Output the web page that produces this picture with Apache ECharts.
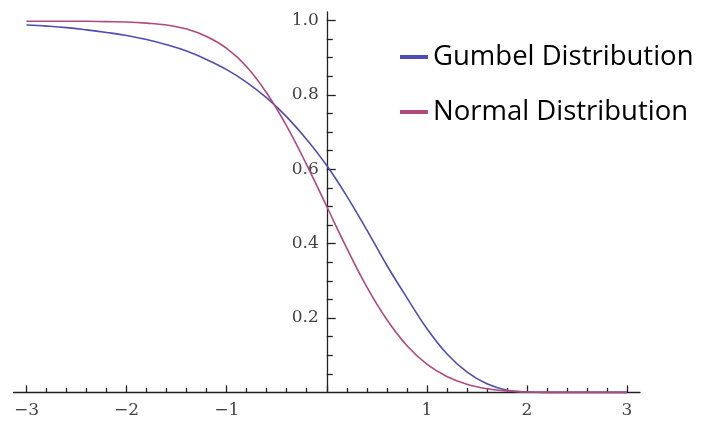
<!DOCTYPE html>
<html><head><meta charset="utf-8">
<script src="https://cdn.jsdelivr.net/npm/echarts@6/dist/echarts.min.js"></script>
<style>html,body{margin:0;padding:0;background:#fff}#c{width:701px;height:433px}</style>
</head><body><div id="c"></div>
<script>
const xs = [-3,-2.8,-2.6,-2.4,-2.2,-2,-1.8,-1.6,-1.4,-1.2,-1,-0.8,-0.6,-0.4,-0.2,0,0.2,0.4,0.6,0.8,1,1.2,1.4,1.6,1.8,2,2.2,2.4,2.6,2.8,3];
const gumbel = [0.988,0.985,0.981,0.975,0.968,0.960,0.949,0.935,0.918,0.895,0.868,0.834,0.792,0.741,0.680,0.610,0.528,0.437,0.342,0.255,0.172,0.104,0.055,0.023,0.006,0.001,0,0,0,0,0];
const normal = [0.998,0.998,0.998,0.998,0.997,0.996,0.993,0.988,0.977,0.957,0.925,0.876,0.805,0.716,0.612,0.500,0.388,0.284,0.196,0.126,0.076,0.043,0.022,0.010,0.004,0.001,0,0,0,0,0];
const seriesNames = ['Gumbel Distribution','Normal Distribution'];
const xMajorTicks = [-3,-2,-1,0,1,2,3];
const xTickLabels = [-3,-2,-1,1,2,3];
const xMinorTicks = [-2.8,-2.6,-2.4,-2.2,-1.8,-1.6,-1.4,-1.2,-0.8,-0.6,-0.4,-0.2,0.2,0.4,0.6,0.8,1.2,1.4,1.6,1.8,2.2,2.4,2.6,2.8];
const yMajorTicks = [0.2,0.4,0.6,0.8,1.0];
const yTickLabels = [0.2,0.4,0.6,0.8,1.0];
const yMinorTicks = [0.05,0.1,0.15,0.25,0.3,0.35,0.45,0.5,0.55,0.65,0.7,0.75,0.85,0.9,0.95];

const W = 701, H = 433;
const GRID = {left:13.5, right:61, top:12, bottom:40.6};
const X_RANGE = [-3.13, 3.13], Y_RANGE = [0, 1.023];
// horizontal position of the data origin inside the grid, so the y axis crosses there
const gridW = W - GRID.left - GRID.right;
const yOff = -((0 - X_RANGE[0]) / (X_RANGE[1] - X_RANGE[0]) * gridW);

const AXIS = '#222';
const labelFont = {fontFamily:'DejaVu Serif', fontSize:17, color:'#444'};
const chart = echarts.init(document.getElementById('c'), null, {renderer:'canvas'});
const near = (v, arr) => arr.some(a => Math.abs(a - v) < 1e-6);

function baseAxis(range, pos, off){
  return {type:'value', min:range[0], max:range[1], position:pos, offset:off,
    splitLine:{show:false}, minorTick:{show:false}, splitArea:{show:false}};
}
function lineAxis(range, pos, off, step, labels, fmt, margin){
  return Object.assign(baseAxis(range, pos, off), {
    minInterval:step, maxInterval:step,
    axisLine:{show:true, onZero:false, lineStyle:{color:AXIS, width:1.3}},
    axisTick:{show:false},
    axisLabel:Object.assign({show:true, margin:margin, hideOverlap:false, interval:0,
      showMinLabel:true, showMaxLabel:true,
      formatter:v => near(v, labels) ? fmt(v) : ''}, labelFont)
  });
}
function tickAxis(range, pos, off, ticks, len){
  return Object.assign(baseAxis(range, pos, off), {
    axisLine:{show:true, onZero:false, lineStyle:{color:AXIS, width:1.3, opacity:0}},
    axisTick:{show:true, inside:true, length:len, customValues:ticks, lineStyle:{color:AXIS, width:1.3}},
    axisLabel:{show:false}
  });
}
const colors = ['#4d4db5','#b04a7e'];
chart.setOption({
  animation:false,
  backgroundColor:'#fff',
  color:colors,
  grid:Object.assign({containLabel:false, outerBoundsMode:'none'}, GRID),
  legend:{
    orient:'vertical', left:395, top:37, icon:'rect', itemWidth:28, itemHeight:4, itemGap:25,
    textStyle:{fontFamily:'Open Sans', fontSize:27.5, color:'#000', lineHeight:30},
    data:seriesNames
  },
  xAxis:[
    lineAxis(X_RANGE,'bottom',0,1,xTickLabels,v => v<0 ? '\u2212'+Math.round(-v) : String(Math.round(v)),10),
    tickAxis(X_RANGE,'bottom',0,xMajorTicks,7),
    tickAxis(X_RANGE,'bottom',0,xMinorTicks,4.5)
  ],
  yAxis:[
    lineAxis(Y_RANGE,'left',yOff,0.2,yTickLabels,v => v.toFixed(1),8),
    tickAxis(Y_RANGE,'left',yOff,yMajorTicks,9),
    tickAxis(Y_RANGE,'left',yOff,yMinorTicks,6)
  ],
  series:[
    {name:seriesNames[0], type:'line', data:xs.map((x,i)=>[x,gumbel[i]]), showSymbol:false, smooth:0.4, clip:false, lineStyle:{width:1.6, color:colors[0]}, z:3},
    {name:seriesNames[1], type:'line', data:xs.map((x,i)=>[x,normal[i]]), showSymbol:false, smooth:0.4, clip:false, lineStyle:{width:1.6, color:colors[1]}, z:3}
  ]
});
</script></body></html>
